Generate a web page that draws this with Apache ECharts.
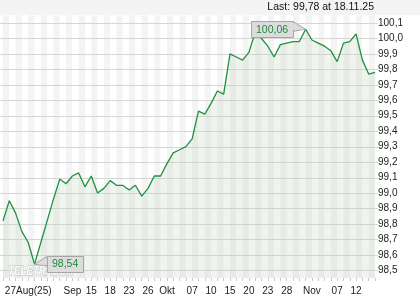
<!DOCTYPE html>
<html>
<head>
<meta charset="utf-8">
<script src="https://cdn.jsdelivr.net/npm/echarts@6/dist/echarts.min.js"></script>
<style>
html,body{margin:0;padding:0;background:#fff;}
#c{width:420px;height:300px;}
</style>
</head>
<body>
<div id="c"></div>
<script>
const dates = [
 '26.08','27.08','28.08','29.08',
 '01.09','02.09','03.09','04.09','05.09','08.09','09.09','10.09','11.09','12.09','15.09','16.09','17.09','18.09','19.09','22.09','23.09','24.09','25.09','26.09','29.09','30.09',
 '01.10','02.10','03.10','06.10','07.10','08.10','09.10','10.10','13.10','14.10','15.10','16.10','17.10','20.10','21.10','22.10','23.10','24.10','27.10','28.10','29.10','30.10','31.10',
 '03.11','04.11','05.11','06.11','07.11','10.11','11.11','12.11','13.11','14.11','17.11'
];
const values = [
 98.82,98.95,98.87,98.75,
 98.68,98.54,98.68,98.82,98.96,99.09,99.06,99.11,99.13,99.04,99.11,99.00,99.03,99.08,99.05,99.05,99.02,99.05,98.98,99.03,99.11,99.11,
 99.19,99.26,99.28,99.30,99.35,99.53,99.51,99.58,99.66,99.64,99.90,99.88,99.86,99.91,100.04,100.00,99.95,99.88,99.96,99.97,99.98,99.98,100.06,
 99.99,99.97,99.95,99.92,99.85,99.97,99.98,100.03,99.86,99.77,99.78
];
const tickDates = ['01.09','10.09','15.09','18.09','23.09','26.09','01.10','07.10','10.10','15.10','20.10','23.10','28.10','03.11','07.11','12.11'];
const tickTexts = ['27Aug(25)','Sep','15','18','23','26','Okt','07','10','15','20','23','28','Nov','07','12'];
const gridValues = [98.5,98.6,98.7,98.8,98.9,99.0,99.1,99.2,99.3,99.4,99.5,99.6,99.7,99.8,99.9,100.0,100.1];
const headerText = 'Last: 99,78 at 18.11.25';

const labelFor = {};
tickDates.forEach((d,i)=>{ labelFor[d] = tickTexts[i]; });

const chart = echarts.init(document.getElementById('c'), null, {renderer:'canvas'});
const FONT = 'Liberation Sans, Arial, sans-serif';

chart.setOption({
  animation:false,
  backgroundColor:'#ffffff',
  title:{
    text: headerText, right:46, top:2, padding:0,
    textStyle:{fontSize:10.5, fontWeight:'normal', color:'#111', fontFamily:FONT}
  },
  grid:{left:3, right:45, top:15.3, bottom:22},
  xAxis:{
    type:'category', data:dates, boundaryGap:false,
    axisLine:{show:false},
    axisTick:{show:true, interval:0, length:3, lineStyle:{color:'#c8c8c8'}},
    axisLabel:{interval:0, formatter:(v)=>labelFor[v]||'', fontSize:10, color:'#222', margin:8, fontFamily:FONT},
    splitLine:{show:false},
    splitArea:{show:true, interval:0, areaStyle:{color:['#f4f4f4','#ffffff']}}
  },
  yAxis:{
    type:'value', position:'right', min:98.45, max:100.15, interval:0.05,
    axisLine:{show:false}, axisTick:{show:false},
    axisLabel:{margin:3, fontSize:10, color:'#222', fontFamily:FONT,
      formatter:(v)=>{ const r=Math.round(v*100); if (r%10!==0) return ''; return (r/100).toFixed(1).replace('.',','); }},
    splitLine:{show:false}
  },
  series:[{
    type:'line', data:values, symbol:'none', silent:true, z:3,
    lineStyle:{color:'#1e9141', width:1.3},
    areaStyle:{origin:'start', color:'rgba(185,212,180,0.32)'}
  }]
});

function measure(t, size){
  const c=document.createElement('canvas').getContext('2d');
  c.font = size+'px '+FONT; return c.measureText(t).width;
}
function fmt(v){ return v.toFixed(2).replace('.',','); }

let maxI=0, minI=0;
values.forEach((v,i)=>{ if(v>values[maxI]) maxI=i; if(v<values[minI]) minI=i; });
const pMax = chart.convertToPixel({seriesIndex:0},[maxI, values[maxI]]);
const pMin = chart.convertToPixel({seriesIndex:0},[minI, values[minI]]);
const lastI = values.length-1;
const xRight = chart.convertToPixel({seriesIndex:0},[lastI, values[lastI]])[0];

function callout(p, val, side){
  const txt = fmt(val);
  const fs = 10.5;
  const w = measure(txt, fs) + 10, h = 16;
  const gap = 12.5;
  const bx = side==='left' ? p[0]-gap-w : p[0]+gap;
  const by = p[1]-h/2;
  const edge = side==='left' ? bx+w : bx;
  return [
    {type:'polygon', z:50, shape:{points:[[edge, by+0.5],[p[0],p[1]],[edge, by+h/2+2]]},
      style:{fill:'#dcdcdc', stroke:'#a6a6a6', lineWidth:1}},
    {type:'rect', z:51, shape:{x:Math.round(bx)+0.5, y:Math.round(by)+0.5, width:Math.round(w), height:h},
      style:{fill:'#dcdcdc', stroke:'#a6a6a6', lineWidth:1}},
    {type:'polygon', z:52, shape:{points:[[edge, by+1.5],[p[0]-(side==='left'?1.5:-1.5),p[1]],[edge, by+h/2+1]]},
      style:{fill:'#dcdcdc'}},
    {type:'text', z:53, x:bx+w/2, y:by+h/2+0.5,
      style:{text:txt, fill:'#1e8a3c', font:fs+'px '+FONT, align:'center', verticalAlign:'middle'}}
  ];
}

const gridLines = gridValues.map(v=>{
  const y = Math.round(chart.convertToPixel({seriesIndex:0}, [0, v])[1]) + 0.5;
  return {type:'line', z:2, silent:true, shape:{x1:0, y1:y, x2:xRight+3, y2:y}, style:{stroke:'#d6d6d6', lineWidth:1}};
});

chart.setOption({
  graphic:[
    {type:'rect', z:-10, silent:true, shape:{x:0,y:0,width:420,height:15.3}, style:{fill:'#f4f4f4'}},
    ...gridLines,
    {type:'text', z:40, x:8, y:265, scaleX:0.78, silent:true,
      style:{text:'TELETRADER', font:'italic bold 12.5px '+FONT, fill:'#fafafa', stroke:'#bdbdbd', lineWidth:0.8}},
    ...callout(pMax, values[maxI], 'left'),
    ...callout(pMin, values[minI], 'right')
  ]
});
</script>
</body>
</html>
